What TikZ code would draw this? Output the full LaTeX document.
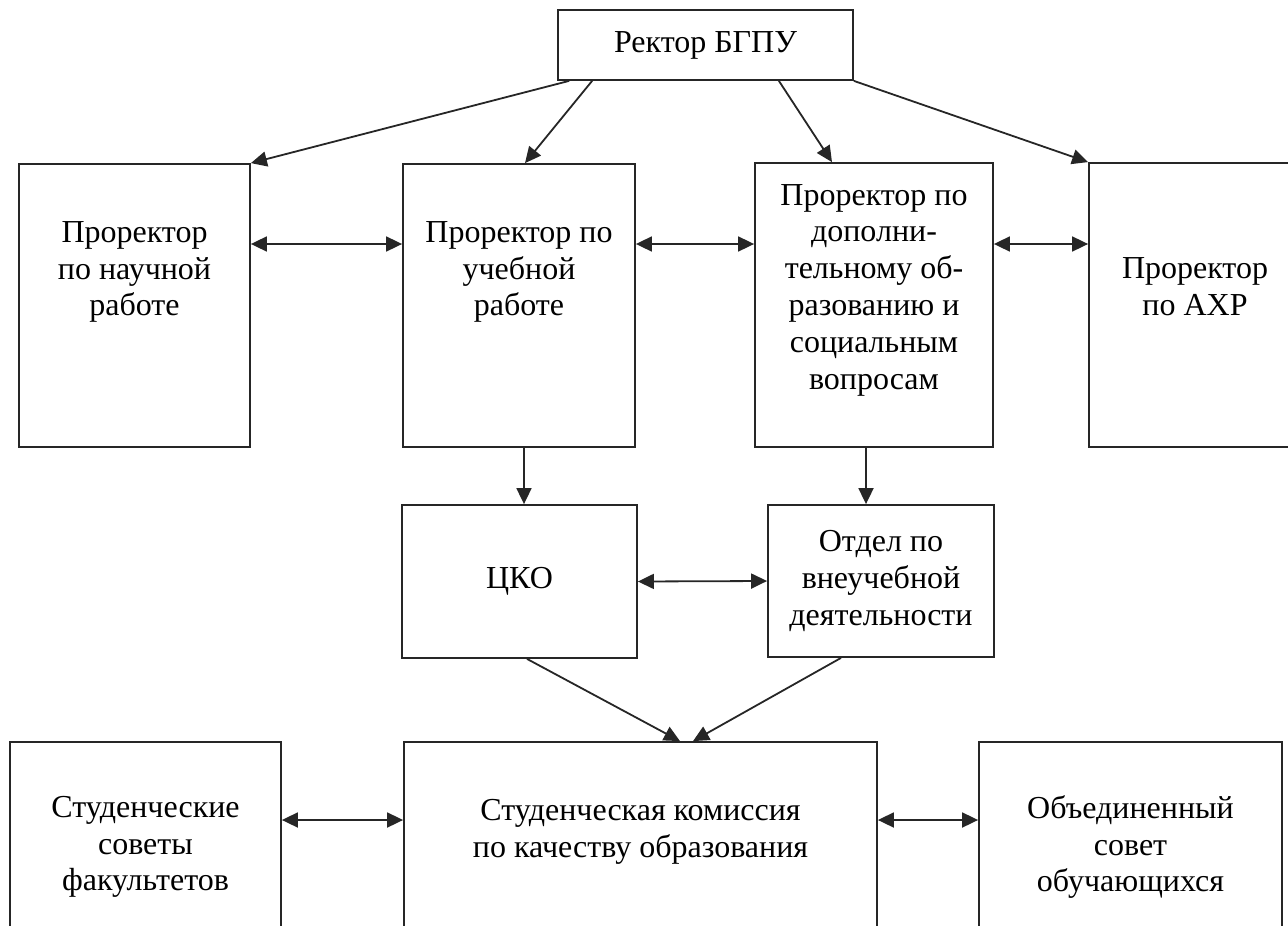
\documentclass[tikz,border=0pt]{standalone}
\usepackage{fontspec}
\setmainfont{Liberation Serif}
\usetikzlibrary{arrows.meta}

\begin{document}
\begin{tikzpicture}[x=1pt,y=-1pt,
        box/.style={rectangle,draw=black!85,line width=1.8pt,align=center,inner sep=0pt,
            font=\fontsize{32}{36.8}\selectfont},
        arr/.style={draw=black!85,line width=1.8pt,-{Triangle[length=16pt,width=15pt]}},
        biarr/.style={draw=black!85,line width=1.8pt,{Triangle[length=16pt,width=15pt]}-{Triangle[length=16pt,width=15pt]}}]
        \useasboundingbox (0,0) rectangle (1288,926);
        \clip (0,0) rectangle (1288,926);
        \node[box,minimum width=295pt,minimum height=70pt] (rector) at (705.5,45) {Ректор БГПУ};
        \node[box,minimum width=231pt,minimum height=283pt] (nauch) at (134.5,305.5) {Проректор\\по научной\\работе\\~\\~};
        \node[box,minimum width=232pt,minimum height=283pt] (ucheb) at (519,305.5) {Проректор по\\учебной\\работе\\~\\~};
        \node[box,minimum width=238pt,minimum height=284pt] (dop) at (874,305) {Проректор по\\дополни-\\тельному об-\\разованию и\\социальным\\вопросам\\~};
        \node[box,minimum width=212pt,minimum height=284pt] (axr) at (1195,305) {Проректор\\по АХР\\~};
        \node[box,minimum width=235pt,minimum height=153pt] (tsko) at (519.5,581.5) {ЦКО};
        \node[box,minimum width=226pt,minimum height=152pt] (otdel) at (881,581) {Отдел по\\внеучебной\\деятельности};
        \node[box,minimum width=271pt,minimum height=210pt] (sovety) at (145.5,847) {Студенческие\\советы\\факультетов};
        \node[box,minimum width=473pt,minimum height=210pt] (komis) at (640.5,847) {Студенческая комиссия\\по качеству образования\\~};
        \node[box,minimum width=303pt,minimum height=210pt] (obed) at (1130.5,847) {Объединенный\\совет\\обучающихся};

        \draw[arr] ([xshift=12pt]rector.south west) -- (nauch.north east);
        \draw[arr] ([xshift=35pt]rector.south west) -- ([xshift=6pt]ucheb.north);
        \draw[arr] ([xshift=-75pt]rector.south east) -- ([xshift=-42pt]dop.north);
        \draw[arr] (rector.south east) -- (axr.north west);
        \draw[biarr] ([yshift=61.5pt]nauch.east) -- ([yshift=61.5pt]ucheb.west);
        \draw[biarr] ([yshift=61.5pt]ucheb.east) -- ([yshift=61pt]dop.west);
        \draw[biarr] ([yshift=61pt]dop.east) -- ([yshift=61pt]axr.west);
        \draw[arr] ([xshift=5pt]ucheb.south) -- ([xshift=4.5pt]tsko.north);
        \draw[arr] ([xshift=-8pt]dop.south) -- ([xshift=-15pt]otdel.north);
        \draw[biarr] (tsko.east) -- (otdel.west);
        \draw[arr] ([xshift=7.5pt]tsko.south) -- ([xshift=39.5pt]komis.north);
        \draw[arr] ([xshift=-40pt]otdel.south) -- ([xshift=52.5pt]komis.north);
        \draw[biarr] ([yshift=27pt]sovety.east) -- ([yshift=27pt]komis.west);
        \draw[biarr] ([yshift=27pt]komis.east) -- ([yshift=27pt]obed.west);
\end{tikzpicture}
\end{document}
